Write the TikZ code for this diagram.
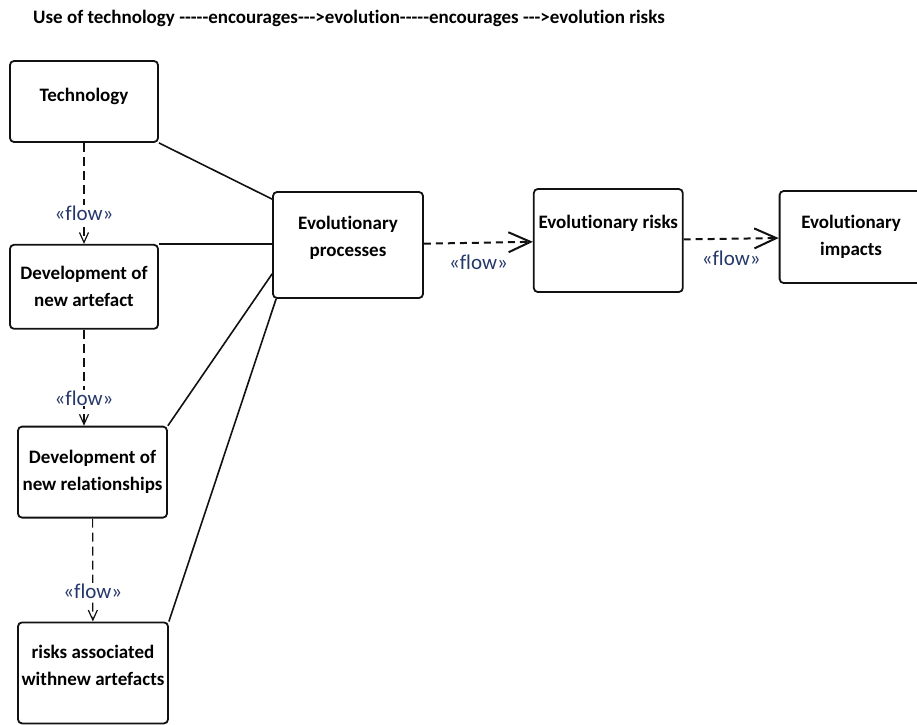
\documentclass[tikz,border=0pt]{standalone}
\usepackage{fontspec}
\usepackage{xcolor}
\usepackage{tikz}
\usetikzlibrary{arrows.meta, positioning}
\newfontfamily\calib{Carlito}[Ligatures={TeXOff, NoCommon}]
\definecolor{ink}{HTML}{111111}
\definecolor{flowtxt}{HTML}{26386A}
\tikzset{
  box/.style    = {draw=ink, line width=1.8pt, rectangle, rounded corners=4pt,
                   align=center, inner sep=2pt,
                   font=\calib\fontsize{19}{27}\selectfont\bfseries},
  link/.style   = {draw=ink, line width=1.6pt},
  flowv/.style  = {-{Straight Barb[length=10pt, width=9pt]}, draw=ink, line width=1.2pt,
                   dash pattern=on 9pt off 5pt},
  flowh/.style  = {-{Straight Barb[length=22pt, width=20pt]}, draw=ink, line width=2pt,
                   dash pattern=on 7pt off 5pt},
  stereo/.style = {font=\calib\fontsize{21}{24}\selectfont, text=flowtxt, fill=white, inner sep=1pt},
  title/.style  = {font=\calib\fontsize{19}{22}\selectfont\bfseries, anchor=west, inner sep=0pt},
}

\begin{document}
\begin{tikzpicture}[x=1pt, y=-1pt]
  \useasboundingbox (0,0) rectangle (917,724);

  \node[title] (head) at (33,18) {Use of technology -----encourages--->evolution-----encourages --->evolution risks};

  % left column
  \node[box, minimum width=148pt, minimum height=81pt, text height=14pt, text depth=15pt] (tech) at (84,101.5) {Technology};
  \node[box, minimum width=148pt, minimum height=84pt, below=101pt of tech] (art) {Development of\\new artefact};
  \node[box, minimum width=149pt, minimum height=91pt, below=96pt of art, xshift=8.5pt] (rel) {Development of\\new relationships};
  \node[box, minimum width=150pt, minimum height=101pt, below=103pt of rel, xshift=0.5pt, text depth=15pt] (risk) {risks associated\\withnew artefacts};

  % main row
  \node[box, minimum width=150pt, minimum height=106pt, text depth=17pt] (proc) at (348,245) {Evolutionary\\processes};
  \node[box, minimum width=149pt, minimum height=103pt, right=109pt of proc, yshift=4.5pt,
        text height=14pt, text depth=39pt] (erisk) {Evolutionary risks};
  \node[box, minimum width=143pt, minimum height=92pt, right=95pt of erisk, yshift=3.5pt] (impact) {Evolutionary\\impacts};

  \draw[link] (tech.south east) -- ([yshift=-8pt]proc.north west);
  \draw[link] (art.north east) -- (art.north east -| proc.west);
  \draw[link] (rel.north east) -- ([yshift=25pt]proc.south west);
  \draw[link] (risk.north east) -- ([xshift=4pt]proc.south west);

  \draw[flowv] (tech) -- (art) node[stereo, pos=0.7] {«flow»};
  \draw[flowv] (art.south) -- (art.south |- rel.north) node[stereo, pos=0.71] {«flow»};
  \draw[flowv] (rel) -- (risk) node[stereo, pos=0.71] {«flow»};

  \draw[flowh] (proc) -- (erisk) node[stereo, midway, below=10pt] {«flow»};
  \draw[flowh] (erisk) -- (impact) node[stereo, midway, below=10pt] {«flow»};
\end{tikzpicture}
\end{document}
